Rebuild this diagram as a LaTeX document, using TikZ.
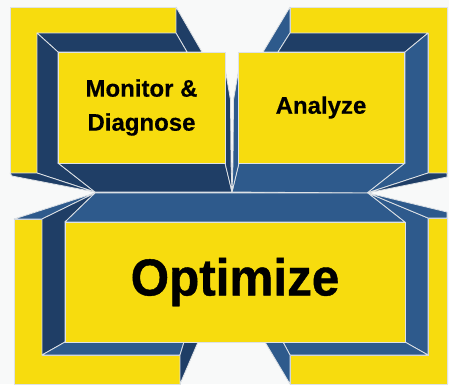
\documentclass[tikz,border=0pt]{standalone}
\usepackage{fontspec}
\setmainfont{Liberation Sans}
\newfontfamily\optfont[FakeStretch=0.95,FakeBold=0.8]{Liberation Sans}
\newfontfamily\lblfont[FakeBold=0.4]{Liberation Sans}
\definecolor{ylw}{RGB}{247,220,14}
\definecolor{dkb}{RGB}{31,62,102}
\definecolor{mdb}{RGB}{46,90,140}
\definecolor{edg}{RGB}{222,226,230}
\definecolor{bgc}{RGB}{248,249,249}
\begin{document}
\begin{tikzpicture}[x=1pt,y=-1pt,
  yel/.style={fill=ylw,draw=edg,line width=0.8pt,line join=round},
  dark/.style={fill=dkb,draw=edg,line width=0.8pt,line join=round},
  mid/.style={fill=mdb,draw=edg,line width=0.8pt,line join=round},
  face/.style={rectangle,fill=ylw,draw=edg,line width=0.8pt,inner sep=0pt,outer sep=0pt,
    align=center,text=black}]
\fill[bgc] (0,0) rectangle (449,384);
\useasboundingbox (0,0) rectangle (449,384);

% ---------- Monitor & Diagnose block ----------
\draw[yel]  (10,7) -- (176,7) -- (176,33) -- (37,33) -- (37,173) -- (10,173) -- cycle;
\draw[dark] (176,7) -- (202,52) -- (187,52) -- (176,33) -- cycle;
\draw[dark] (37,33) -- (176,33) -- (187,52) -- (58,52) -- cycle;
\draw[dark] (37,33) -- (58,52) -- (58,163) -- (95,192) -- (37,173) -- cycle;
\draw[dark] (10,173) -- (37,173) -- (95,192) -- (12,176) -- cycle;
\draw[dark] (58,163) -- (225,163) -- (232,192) -- (95,192) -- cycle;
\draw[dark] (225,68) -- (230.5,100) -- (231,163) -- (232,192) -- (225,163) -- cycle;

% ---------- Analyze block ----------
\draw[yel]  (290,7) -- (447,7) -- (447,173) -- (428,173) -- (428,33) -- (290,33) -- cycle;
\draw[mid]  (290,7) -- (290,33) -- (278,52) -- (263,52) -- cycle;
\draw[dark] (290,33) -- (428,33) -- (405,52) -- (278,52) -- cycle;
\draw[mid]  (428,33) -- (428,173) -- (367,193) -- (405,163) -- (405,52) -- cycle;
\draw[dark] (428,173) -- (447,173) -- (447,177) -- (367,193) -- cycle;
\draw[mid]  (239,163) -- (405,163) -- (367,193) -- (232,192) -- cycle;
\draw[mid]  (239,68) -- (233.5,100) -- (233,163) -- (232,192) -- (239,163) -- cycle;

% ---------- Optimize block ----------
\draw[yel]  (14,219) -- (42,219) -- (42,355) -- (180,355) -- (180,384) -- (14,384) -- cycle;
\draw[yel]  (428,218) -- (447,218) -- (447,384) -- (290,384) -- (290,355) -- (428,355) -- cycle;
\draw[mid]  (14,219) -- (95,193) -- (42,219) -- cycle;
\draw[dark] (42,219) -- (95,193) -- (65,222) -- (65,342) -- (42,355) -- cycle;
\draw[mid]  (95,193) -- (368,193) -- (405,222) -- (65,222) -- cycle;
\draw[mid]  (368,193) -- (428,218) -- (428,355) -- (405,342) -- (405,222) -- cycle;
\draw[mid]  (368,193) -- (447,212) -- (447,218) -- (428,218) -- cycle;
\draw[mid]  (42,355) -- (65,342) -- (184,342) -- (180,355) -- cycle;
\draw[dark] (184,342) -- (198,342) -- (180,384) -- (180,355) -- cycle;
\draw[mid]  (283,342) -- (405,342) -- (428,355) -- (290,355) -- cycle;
\draw[mid]  (265,342) -- (283,342) -- (290,355) -- (290,384) -- cycle;

% ---------- front faces ----------
\node[face,minimum width=167pt,minimum height=111pt,
  font=\lblfont\bfseries\fontsize{24}{34}\selectfont] (monitor) at (141.5,107.5) {Monitor \&\\Diagnose};
\node[face,minimum width=166pt,minimum height=111pt,
  font=\lblfont\bfseries\fontsize{24}{28}\selectfont] (analyze) at (321,107.5) {Analyze};
\node[face,minimum width=340pt,minimum height=120pt,
  font=\optfont\bfseries\fontsize{52}{60}\selectfont] (optimize) at (235,282) {Optimize};
\end{tikzpicture}
\end{document}
